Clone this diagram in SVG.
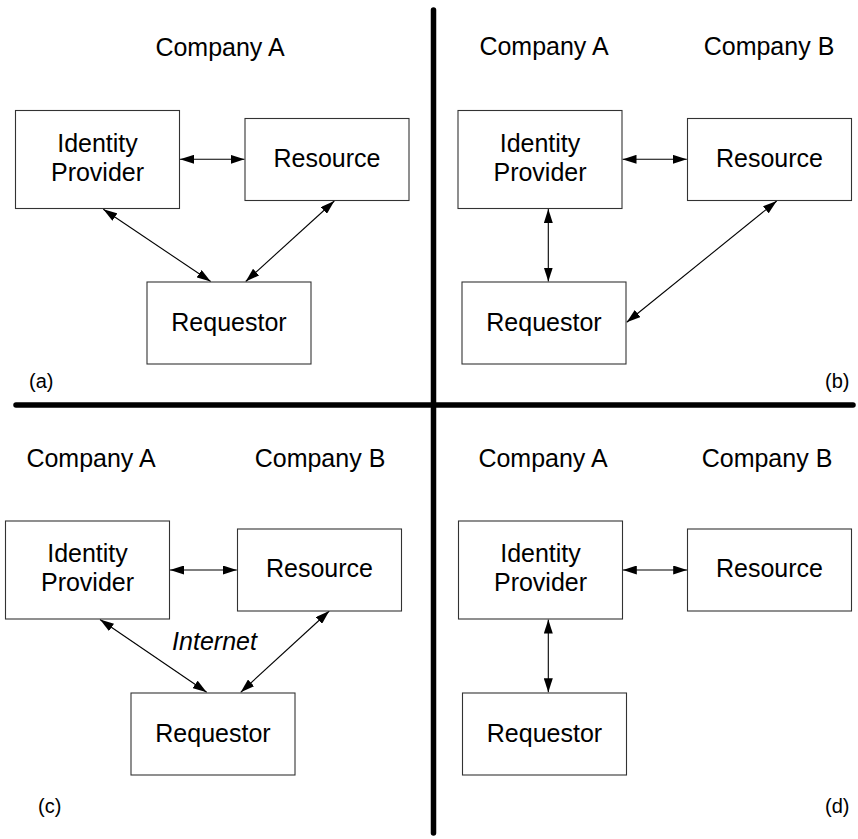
<svg xmlns="http://www.w3.org/2000/svg" width="858" height="839" viewBox="0 0 858 839">
<style>
  .box { fill: #ffffff; stroke: #333333; stroke-width: 1.1; }
  .t { font-family: "Liberation Sans", Arial, sans-serif; font-size: 25px; fill: #000; text-anchor: middle; }
  .lbl { font-family: "Liberation Sans", Arial, sans-serif; font-size: 20px; fill: #000; }
  .it { font-style: italic; }
  .conn { stroke: #000; stroke-width: 1.1; fill: none; marker-start: url(#ah); marker-end: url(#ah); }
  .div { stroke: #000; stroke-width: 5.5; stroke-linecap: round; }
</style>
<defs>
  <marker id="ah" viewBox="0 0 14 9" markerWidth="14" markerHeight="9" markerUnits="userSpaceOnUse" refX="14" refY="4.5" orient="auto-start-reverse">
    <path d="M0,0 L14,4.5 L0,9 z" fill="#000"/>
  </marker>
</defs>
<rect width="858" height="839" fill="#fff"/>

<g id="dividers">
  <line class="div" x1="433.5" y1="10" x2="433.5" y2="833"/>
  <line class="div" x1="16" y1="405" x2="853" y2="405"/>
</g>

<g id="labels">
  <text class="t" x="220" y="56">Company A</text>
  <text class="t" x="544" y="55">Company A</text>
  <text class="t" x="769" y="55">Company B</text>
  <text class="t" x="91" y="466.7">Company A</text>
  <text class="t" x="320" y="466.7">Company B</text>
  <text class="t" x="543" y="466.7">Company A</text>
  <text class="t" x="767" y="466.7">Company B</text>
  <text class="t it" x="214.5" y="650">Internet</text>
  <text class="lbl" x="29" y="388">(a)</text>
  <text class="lbl" x="849.5" y="388" text-anchor="end">(b)</text>
  <text class="lbl" x="38" y="812.5">(c)</text>
  <text class="lbl" x="849.5" y="812.5" text-anchor="end">(d)</text>
</g>

<g id="connectors">
  <line class="conn" x1="180" y1="159.3" x2="244.5" y2="159.3"/>
  <line class="conn" x1="103.3" y1="209.3" x2="210.7" y2="281.5"/>
  <line class="conn" x1="334.3" y1="201" x2="245.7" y2="281.5"/>
  <line class="conn" x1="622.5" y1="159.3" x2="686.8" y2="159.3"/>
  <line class="conn" x1="548.3" y1="209" x2="548.3" y2="281.5"/>
  <line class="conn" x1="776.7" y1="201" x2="626.7" y2="322.3"/>
  <line class="conn" x1="170" y1="570" x2="236.8" y2="570"/>
  <line class="conn" x1="100" y1="619.5" x2="206.7" y2="692.3"/>
  <line class="conn" x1="329.3" y1="611" x2="240.7" y2="692.3"/>
  <line class="conn" x1="622.8" y1="570" x2="687.2" y2="570"/>
  <line class="conn" x1="548.3" y1="619.5" x2="548.3" y2="692.3"/>
</g>

<g id="a-idp">
  <rect class="box" x="15.5" y="110.5" width="164" height="98"/>
  <text class="t" x="97.5" y="151.7">Identity</text>
  <text class="t" x="97.5" y="180.7">Provider</text>
</g>
<g id="a-resource">
  <rect class="box" x="245" y="118.5" width="164" height="82"/>
  <text class="t" x="327" y="166.7">Resource</text>
</g>
<g id="a-requestor">
  <rect class="box" x="147" y="282" width="164" height="82"/>
  <text class="t" x="229" y="330.7">Requestor</text>
</g>

<g id="b-idp">
  <rect class="box" x="458" y="110.5" width="164" height="98"/>
  <text class="t" x="540" y="151.7">Identity</text>
  <text class="t" x="540" y="180.7">Provider</text>
</g>
<g id="b-resource">
  <rect class="box" x="687.5" y="118.5" width="164" height="82"/>
  <text class="t" x="769.5" y="166.7">Resource</text>
</g>
<g id="b-requestor">
  <rect class="box" x="462" y="282" width="164" height="82"/>
  <text class="t" x="544" y="330.7">Requestor</text>
</g>

<g id="c-idp">
  <rect class="box" x="5.5" y="521" width="164" height="98"/>
  <text class="t" x="87.5" y="562.4">Identity</text>
  <text class="t" x="87.5" y="591.4">Provider</text>
</g>
<g id="c-resource">
  <rect class="box" x="237.5" y="529" width="164" height="82"/>
  <text class="t" x="319.5" y="577.4">Resource</text>
</g>
<g id="c-requestor">
  <rect class="box" x="131" y="693" width="164" height="82"/>
  <text class="t" x="213" y="741.5">Requestor</text>
</g>

<g id="d-idp">
  <rect class="box" x="458.5" y="521" width="164" height="98"/>
  <text class="t" x="540.5" y="562.4">Identity</text>
  <text class="t" x="540.5" y="591.4">Provider</text>
</g>
<g id="d-resource">
  <rect class="box" x="687.5" y="529" width="164" height="82"/>
  <text class="t" x="769.5" y="577.4">Resource</text>
</g>
<g id="d-requestor">
  <rect class="box" x="462.5" y="693" width="164" height="82"/>
  <text class="t" x="544.5" y="741.5">Requestor</text>
</g>
</svg>
